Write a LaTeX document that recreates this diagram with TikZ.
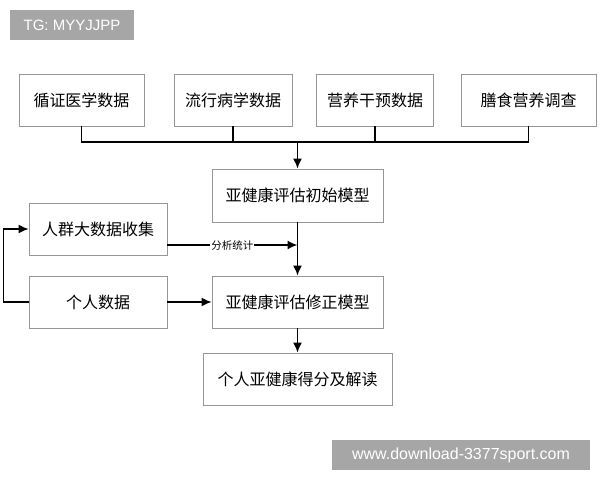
\documentclass[tikz,border=0pt]{standalone}
\usepackage{fontspec}
\usepackage{tikz}
\usetikzlibrary{arrows.meta}
\setmainfont{Liberation Sans}
\newfontfamily\cjk{Noto Sans CJK SC}
\definecolor{box_gray}{RGB}{150, 150, 150}
\definecolor{mark_gray}{RGB}{166, 166, 166}
\tikzstyle{box}=[rectangle,draw=box_gray,line width=0.8pt,inner sep=0pt,
  minimum height=52pt,text=black,font=\cjk\fontsize{16}{16}\selectfont]
\tikzstyle{link}=[line width=1.6pt,black]
\tikzstyle{arr}=[link,-{Latex[length=10pt,width=9pt]}]
\tikzstyle{wmark}=[rectangle,fill=mark_gray,text=white,inner sep=0pt]

\begin{document}
\begin{tikzpicture}[x=1pt,y=-1pt]
        \useasboundingbox (0,0) rectangle (600,480);
        \node [style=wmark,minimum width=124pt,minimum height=30pt,font=\fontsize{15}{15}\selectfont] (tag) at (72,25) {TG: MYYJJPP};
        \node [style=wmark,minimum width=258pt,minimum height=30pt,font=\fontsize{16}{16}\selectfont] (site) at (461,455) {www.download-3377sport.com};
        \node [style=box,minimum width=125pt] (ebm) at (81.5,100) {循证医学数据};
        \node [style=box,minimum width=118pt] (epi) at (233,100) {流行病学数据};
        \node [style=box,minimum width=117pt] (nut) at (375,100) {营养干预数据};
        \node [style=box,minimum width=135pt] (diet) at (528.5,100) {膳食营养调查};
        \node [style=box,minimum width=171pt,minimum height=53pt] (init) at (297.5,195.5) {亚健康评估初始模型};
        \node [style=box,minimum width=138pt] (crowd) at (98,229) {人群大数据收集};
        \node [style=box,minimum width=138pt] (pers) at (98,302) {个人数据};
        \node [style=box,minimum width=171pt] (rev) at (297.5,302) {亚健康评估修正模型};
        \node [style=box,minimum width=189pt] (score) at (297.5,379) {个人亚健康得分及解读};
        \coordinate (bus) at (297.5,142);
        \coordinate (stat) at (297.5,245);
        \draw [style=link] (ebm.south) |- (bus) -| (diet.south);
        \draw [style=link] (epi.south) to (epi.south |- bus);
        \draw [style=link] (nut.south) to (nut.south |- bus);
        \draw [style=arr] (bus) to (init.north);
        \draw [style=arr] (init.south) to (rev.north);
        \draw [style=arr] (crowd.east |- stat) to node [fill=white,inner sep=1pt,font=\cjk\fontsize{10.5}{10.5}\selectfont] {分析统计} (stat);
        \draw [style=arr] (pers.east) to (rev.west);
        \draw [style=arr] (pers.west) -- ++(-25,0) |- (crowd.west);
        \draw [style=arr] (rev.south) to (score.north);
    \end{tikzpicture}
\end{document}
